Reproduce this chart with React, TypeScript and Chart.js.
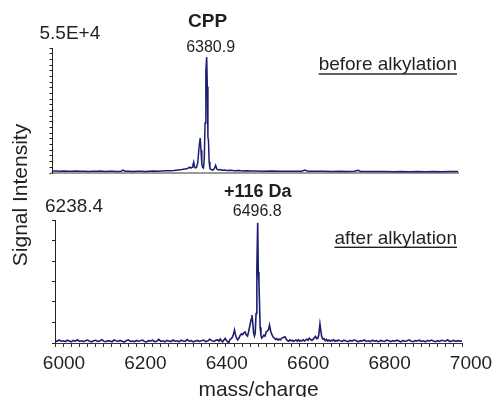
import { useEffect, useRef } from 'react';
import { Chart, registerables } from 'chart.js';

Chart.register(...registerables);

const FONT = "'Liberation Sans', Arial, Helvetica, sans-serif";
const TEXT = '#231f20';
const LINE = '#1d1d70';

const xMin = 6000;
const xMax = 7000;
const xTickLabels = ['6000', '6200', '6400', '6600', '6800', '7000'];

const topYMax = 55000;
const topYMaxLabel = '5.5E+4';
const topYTicks = [0, 2500, 5000, 7500, 10000, 12500, 15000, 17500, 20000, 22500, 25000, 27500, 30000, 32500, 35000, 37500, 40000, 42500, 45000, 47500, 50000, 52500, 55000];

const bottomYMax = 6238.4;
const bottomYMaxLabel = '6238.4';
const bottomYTicks = [0, 1039.73, 2079.47, 3119.2, 4158.93, 5198.67, 6238.4];

const topPeak = { mass: 6380.9, label: '6380.9', name: 'CPP', note: 'before alkylation' };
const bottomPeak = { mass: 6496.8, label: '6496.8', name: '+116 Da', note: 'after alkylation' };

const axisTitleY = 'Signal Intensity';
const axisTitleX = 'mass/charge';

// [mass, intensity]
const topSpectrum: [number, number][] = [
  [6000, 900], [6010, 850], [6020, 800], [6030, 900], [6040, 750], [6050, 800], [6060, 850], [6070, 750],
  [6080, 800], [6090, 700], [6100, 800], [6110, 750], [6120, 850], [6130, 700], [6140, 800], [6150, 750],
  [6160, 700], [6170, 800], [6175, 1300], [6180, 800], [6190, 750], [6200, 700], [6210, 800], [6220, 750],
  [6230, 700], [6240, 800], [6250, 850], [6260, 800], [6270, 900], [6280, 950], [6290, 1000], [6300, 1100],
  [6310, 1300], [6320, 1500], [6328, 1800], [6334, 2000], [6339, 2600], [6342, 2200], [6345, 2500], [6347, 3500],
  [6349, 4800], [6351, 3000], [6353, 2200], [6356, 2500], [6359, 4500], [6362, 11000], [6365, 15400], [6367, 10000],
  [6369, 4000], [6371, 2500], [6373, 2200], [6375, 6000], [6377, 22000], [6379, 45000], [6381, 51000], [6382.5, 38000],
  [6384, 16000], [6385.5, 14000], [6387, 5000], [6389, 2000], [6392, 1500], [6396, 1300], [6400, 2000], [6403, 3400],
  [6406, 1800], [6410, 1300], [6415, 1500], [6420, 1200], [6425, 1300], [6430, 1100], [6440, 1200], [6450, 1000],
  [6460, 1100], [6470, 900], [6480, 1000], [6490, 850], [6500, 900], [6520, 800], [6540, 850], [6560, 750],
  [6580, 800], [6600, 750], [6615, 800], [6623, 1300], [6630, 800], [6650, 750], [6670, 800], [6690, 700],
  [6710, 750], [6730, 700], [6745, 750], [6754, 1200], [6760, 700], [6780, 650], [6800, 700], [6820, 650],
  [6840, 600], [6860, 700], [6880, 600], [6900, 650], [6920, 550], [6940, 650], [6960, 600], [6980, 700], [7000, 650],
];

const bottomSpectrum: [number, number][] = [
  [6000, 120], [6005, 80], [6010, 150], [6015, 90], [6020, 110], [6025, 70], [6030, 140], [6035, 100],
  [6040, 60], [6045, 130], [6050, 90], [6055, 160], [6060, 80], [6065, 110], [6070, 70], [6075, 120],
  [6080, 150], [6085, 90], [6090, 60], [6095, 110], [6100, 140], [6105, 80], [6110, 100], [6115, 170],
  [6120, 90], [6125, 70], [6130, 120], [6135, 100], [6140, 60], [6145, 150], [6150, 110], [6155, 80],
  [6160, 130], [6165, 90], [6170, 50], [6175, 120], [6180, 160], [6185, 80], [6190, 100], [6195, 70],
  [6200, 130], [6205, 90], [6210, 110], [6215, 150], [6220, 80], [6225, 60], [6230, 120], [6235, 100],
  [6240, 140], [6245, 70], [6250, 90], [6255, 180], [6260, 80], [6265, 110], [6270, 60], [6275, 130],
  [6280, 100], [6285, 70], [6290, 150], [6295, 90], [6300, 110], [6305, 60], [6310, 140], [6315, 100],
  [6320, 80], [6325, 170], [6330, 90], [6335, 120], [6340, 60], [6345, 100], [6350, 130], [6355, 80],
  [6360, 110], [6365, 150], [6370, 70], [6375, 100], [6380, 190], [6385, 120], [6390, 80], [6395, 140],
  [6400, 160], [6403, 90], [6406, 200], [6409, 120], [6412, 60], [6415, 150], [6418, 230], [6421, 140],
  [6424, 60], [6427, 30], [6430, 180], [6433, 220], [6436, 300], [6439, 480], [6441, 660], [6443, 450],
  [6446, 250], [6449, 160], [6452, 250], [6455, 380], [6458, 460], [6461, 420], [6464, 520], [6467, 560],
  [6470, 400], [6473, 350], [6476, 600], [6479, 900], [6482, 1200], [6484, 1420], [6486, 1000], [6488, 500],
  [6490, 350], [6492, 500], [6494, 1500], [6496, 3800], [6498, 6100], [6499.5, 3600], [6501, 3100], [6502.5, 2000],
  [6504, 800], [6506, 400], [6508, 250], [6510, 300], [6513, 400], [6516, 350], [6519, 570], [6522, 600],
  [6525, 700], [6527, 910], [6530, 600], [6533, 420], [6536, 300], [6539, 250], [6542, 180], [6545, 220],
  [6548, 150], [6551, 200], [6554, 160], [6557, 250], [6561, 280], [6565, 320], [6568, 200], [6571, 120],
  [6574, 90], [6577, 160], [6580, 110], [6583, 140], [6586, 80], [6589, 120], [6592, 150], [6595, 100],
  [6598, 170], [6601, 90], [6604, 130], [6607, 110], [6610, 160], [6613, 100], [6616, 150], [6619, 200],
  [6622, 140], [6625, 240], [6628, 180], [6631, 130], [6634, 180], [6637, 260], [6640, 330], [6643, 220],
  [6646, 250], [6648, 400], [6651, 960], [6653, 650], [6655, 350], [6658, 200], [6661, 220], [6664, 120],
  [6667, 180], [6670, 100], [6673, 150], [6676, 90], [6679, 140], [6682, 110], [6685, 170], [6688, 80],
  [6691, 130], [6694, 100], [6697, 150],
  [6700, 120], [6705, 80], [6710, 140], [6715, 100], [6720, 70], [6725, 130], [6730, 90], [6735, 160],
  [6740, 110], [6745, 60], [6750, 120], [6755, 100], [6760, 150], [6765, 80], [6770, 110], [6775, 70],
  [6780, 140], [6785, 90], [6790, 120], [6795, 60], [6800, 130], [6805, 100], [6810, 80], [6815, 150],
  [6820, 110], [6825, 70], [6830, 120], [6835, 90], [6840, 140], [6845, 100], [6850, 60], [6855, 130],
  [6860, 80], [6865, 110], [6870, 160], [6875, 90], [6880, 70], [6885, 120], [6890, 100], [6895, 140],
  [6900, 80], [6905, 110], [6910, 60], [6915, 130], [6920, 90], [6925, 150], [6930, 100], [6935, 70],
  [6940, 120], [6945, 80], [6950, 140], [6955, 110], [6960, 90], [6965, 160], [6970, 70], [6975, 100],
  [6980, 130], [6985, 80], [6990, 120], [6995, 90], [7000, 110],
];

function font(size: number, bold = false) {
  return `${bold ? 'bold ' : ''}${size}px ${FONT}`;
}

function drawUnderlined(ctx: CanvasRenderingContext2D, text: string, right: number, midY: number, lineY: number) {
  ctx.font = font(19);
  ctx.textAlign = 'right';
  ctx.textBaseline = 'middle';
  ctx.fillText(text, right, midY);
  const w = ctx.measureText(text).width;
  ctx.fillRect(right - w, lineY - 0.7, w, 1.4);
}

const topAnnotations = {
  id: 'topAnnotations',
  afterDraw(chart: any) {
    const ctx: CanvasRenderingContext2D = chart.ctx;
    const xs = chart.scales.x;
    const px = xs.getPixelForValue(topPeak.mass);
    ctx.save();
    ctx.fillStyle = TEXT;
    ctx.textBaseline = 'middle';
    ctx.textAlign = 'left';
    ctx.font = font(19);
    ctx.fillText(topYMaxLabel, 39.5, 33.5);
    ctx.textAlign = 'center';
    ctx.font = font(19, true);
    ctx.fillText(topPeak.name, px + 1, 21.7);
    ctx.font = font(16);
    ctx.fillText(topPeak.label, px + 4, 47.8);
    drawUnderlined(ctx, topPeak.note, 457, 64.4, 74);
    ctx.restore();
  },
};

const bottomAnnotations = {
  id: 'bottomAnnotations',
  afterDraw(chart: any) {
    const ctx: CanvasRenderingContext2D = chart.ctx;
    const xs = chart.scales.x;
    const px = xs.getPixelForValue(bottomPeak.mass);
    ctx.save();
    ctx.fillStyle = TEXT;
    ctx.textBaseline = 'middle';
    ctx.textAlign = 'left';
    ctx.font = font(19);
    ctx.fillText(bottomYMaxLabel, 45, 206.7);
    ctx.textAlign = 'center';
    ctx.font = font(18, true);
    ctx.fillText(bottomPeak.name, px + 0.5, 192);
    ctx.font = font(16);
    ctx.fillText(bottomPeak.label, px, 211.2);
    drawUnderlined(ctx, bottomPeak.note, 457, 238.4, 247.3);
    ctx.translate(21, 195);
    ctx.rotate(-Math.PI / 2);
    ctx.font = font(21);
    ctx.textAlign = 'center';
    ctx.fillText(axisTitleY, 0, 0);
    ctx.restore();
  },
};

export default function App() {
  const topRef = useRef<HTMLCanvasElement>(null);
  const bottomRef = useRef<HTMLCanvasElement>(null);

  useEffect(() => {
    const bottom = new Chart(bottomRef.current!, {
      type: 'line',
      data: {
        datasets: [
          {
            data: bottomSpectrum.map(([x, y]) => ({ x, y })),
            borderColor: LINE,
            borderWidth: 1.6,
            pointRadius: 0,
            tension: 0,
            fill: false,
          },
        ],
      },
      options: {
        responsive: false,
        animation: false,
        events: [],
        layout: { padding: { top: 220, right: 35, left: 0, bottom: 0 } },
        plugins: { legend: { display: false }, tooltip: { enabled: false } },
        scales: {
          x: {
            type: 'linear',
            min: xMin,
            max: xMax,
            afterFit: (s: any) => { s.height = 67; },
            grid: { display: true, drawOnChartArea: false, drawTicks: true, tickLength: 4, color: '#333', lineWidth: 1 },
            border: { display: true, color: '#333', width: 1 },
            ticks: {
              stepSize: 20,
              autoSkip: false,
              maxRotation: 0,
              minRotation: 0,
              padding: 5,
              labelOffset: 9,
              color: TEXT,
              font: { family: FONT, size: 19 },
              callback: (v: any) => (xTickLabels.includes(String(v)) ? String(v) : ''),
            },
            title: {
              display: true,
              text: axisTitleX,
              color: TEXT,
              font: { family: FONT, size: 21 },
              padding: { top: 0, bottom: 7.4 },
            },
          },
          y: {
            min: 0,
            max: bottomYMax,
            afterFit: (s: any) => { s.width = 55; },
            afterBuildTicks: (s: any) => { s.ticks = bottomYTicks.map((value) => ({ value })); },
            grid: { display: true, drawOnChartArea: false, drawTicks: true, tickLength: 3, color: '#222', lineWidth: 1 },
            border: { display: true, color: '#222', width: 1 },
            ticks: { display: false },
          },
        },
      },
      plugins: [bottomAnnotations],
    });

    const top = new Chart(topRef.current!, {
      type: 'line',
      data: {
        datasets: [
          {
            data: topSpectrum.map(([x, y]) => ({ x, y })),
            borderColor: LINE,
            borderWidth: 1.5,
            pointRadius: 0,
            tension: 0,
            fill: false,
          },
        ],
      },
      options: {
        responsive: false,
        animation: false,
        events: [],
        layout: { padding: { top: 48, right: 39, left: 0, bottom: 0 } },
        plugins: { legend: { display: false }, tooltip: { enabled: false } },
        scales: {
          x: {
            type: 'linear',
            min: xMin,
            max: xMax,
            afterFit: (s: any) => { s.height = 5; },
            grid: { display: false },
            border: { display: true, color: '#9a9a9a', width: 2 },
            ticks: { display: false },
          },
          y: {
            min: 0,
            max: topYMax,
            afterFit: (s: any) => { s.width = 52; },
            afterBuildTicks: (s: any) => { s.ticks = topYTicks.map((value) => ({ value })); },
            grid: { display: true, drawOnChartArea: false, drawTicks: true, tickLength: 2.5, color: '#222', lineWidth: 1 },
            border: { display: true, color: '#222', width: 1 },
            ticks: { display: false },
          },
        },
      },
      plugins: [topAnnotations],
    });

    return () => {
      top.destroy();
      bottom.destroy();
    };
  }, []);

  return (
    <div style={{ position: 'absolute', left: 0, top: 0, width: 497, height: 397, overflow: 'hidden', background: '#fff' }}>
      <canvas ref={bottomRef} width={497} height={410} style={{ position: 'absolute', left: 0, top: 0, width: 497, height: 410 }} />
      <canvas ref={topRef} width={497} height={178} style={{ position: 'absolute', left: 0, top: 0, width: 497, height: 178 }} />
    </div>
  );
}
